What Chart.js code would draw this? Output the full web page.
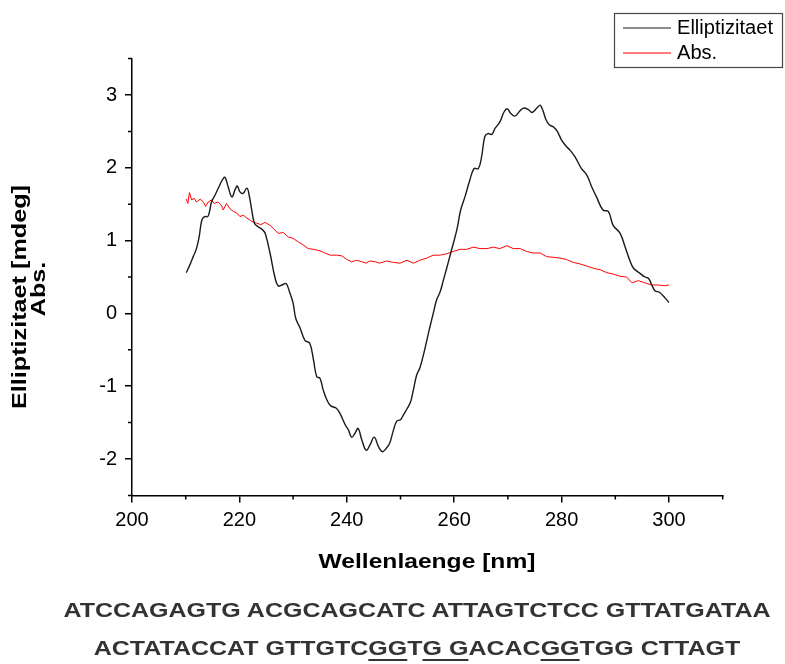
<!DOCTYPE html>
<html>
<head>
<meta charset="utf-8">
<script src="https://cdn.jsdelivr.net/npm/chart.js@4"></script>
<style>
  html, body { margin: 0; padding: 0; background: #fff; }
  #wrap { position: relative; width: 785px; height: 664px; }
  .seq {
    position: absolute; left: 417px; white-space: pre;
    font: bold 20.5px "Liberation Sans", Arial, sans-serif; color: #333;
    line-height: 20px;
    transform: translateX(-50%) scaleX(1.22);
  }
  .seq u { text-decoration-thickness: 2px; text-underline-offset: 4px; }
</style>
</head>
<body>
<div id="wrap">
  <canvas id="cdChart" width="785" height="664"></canvas>
  <div class="seq" style="top:600px">ATCCAGAGTG ACGCAGCATC ATTAGTCTCC GTTATGATAA</div>
  <div class="seq" style="top:638px">ACTATACCAT GTTGTC<u>GG</u>T<u>G G</u>ACAC<u>GG</u>TGG CTTAGT</div>
</div>
<script>
// wavelength [nm] / ellipticity [mdeg]
const cdWavelength = [210.1, 210.8, 211.4, 212.0, 212.5, 213.0, 213.5, 214.1, 214.5, 214.8,
    215.5, 216.2, 216.8, 217.3, 217.9, 218.6, 219.2, 219.6, 220.1, 220.7, 221.4, 221.8,
    222.3, 222.8, 223.5, 224.3, 224.8, 225.7, 226.6, 227.2, 227.9, 228.7, 229.4, 230.0,
    230.5, 231.3, 232.2, 233.1, 233.8, 234.4, 235.0, 235.6, 236.3, 237.0, 238.0, 238.7,
    239.7, 240.3, 240.9, 241.5, 242.1, 242.8, 243.6, 244.3, 245.1, 245.9, 246.6, 247.4,
    248.0, 248.7, 249.3, 250.0, 250.5, 251.3, 251.9, 252.4, 253.0, 253.6, 254.2, 254.9,
    255.5, 256.1, 256.7, 257.4, 258.0, 258.6, 259.5, 260.5, 261.2, 262.0, 262.9, 263.7,
    264.5, 265.1, 265.7, 266.3, 267.0, 267.6, 268.5, 269.3, 269.9, 270.5, 271.3, 272.1,
    272.9, 273.8, 274.5, 275.4, 276.0, 276.5, 277.1, 277.7, 278.5, 279.2, 280.0, 280.8,
    281.6, 282.5, 283.7, 284.7, 285.6, 286.5, 287.7, 288.7, 289.6, 290.9, 291.8, 292.7,
    293.4, 294.6, 295.5, 296.2, 296.8, 297.4, 298.2, 299.3, 300.0];
const ellipticity = [0.56, 0.67, 0.78, 0.89, 1.05, 1.28, 1.33, 1.33, 1.42, 1.53,
    1.63, 1.74, 1.83, 1.87, 1.74, 1.60, 1.70, 1.75, 1.67, 1.65, 1.72, 1.63,
    1.42, 1.24, 1.19, 1.15, 1.10, 0.83, 0.50, 0.38, 0.39, 0.41, 0.28, 0.14,
    -0.07, -0.20, -0.37, -0.41, -0.64, -0.87, -0.89, -1.05, -1.19, -1.27, -1.30, -1.37,
    -1.53, -1.60, -1.70, -1.65, -1.58, -1.74, -1.88, -1.81, -1.70, -1.83, -1.90, -1.85,
    -1.78, -1.60, -1.48, -1.46, -1.40, -1.30, -1.21, -1.05, -0.85, -0.75, -0.59, -0.37,
    -0.18, 0.00, 0.18, 0.30, 0.46, 0.62, 0.87, 1.15, 1.42, 1.60, 1.83, 1.99,
    1.99, 2.15, 2.43, 2.47, 2.46, 2.54, 2.63, 2.77, 2.81, 2.75, 2.71, 2.77,
    2.82, 2.80, 2.76, 2.82, 2.86, 2.79, 2.66, 2.59, 2.56, 2.50, 2.38, 2.30,
    2.24, 2.15, 1.99, 1.90, 1.74, 1.60, 1.42, 1.40, 1.21, 1.10, 0.92, 0.73,
    0.62, 0.55, 0.50, 0.48, 0.39, 0.31, 0.29, 0.21, 0.15];

// wavelength [nm] / absorbance
const absWavelength = [210.1, 210.4, 210.7, 211.1, 211.6, 212.0, 212.7, 213.3, 213.7, 214.2,
    214.8, 215.3, 216.0, 216.6, 217.0, 217.6, 218.2, 218.9, 219.5, 220.1, 220.7, 221.4,
    222.0, 222.6, 223.2, 224.0, 224.8, 225.7, 226.3, 227.2, 228.2, 229.1, 230.0, 231.0,
    231.9, 232.8, 233.8, 235.0, 235.9, 236.9, 238.1, 239.1, 240.0, 240.9, 241.8, 242.8,
    243.6, 244.3, 245.3, 246.1, 247.4, 248.7, 249.9, 251.2, 252.4, 253.6, 254.9, 256.1,
    257.4, 258.6, 259.8, 261.1, 262.3, 263.6, 264.8, 266.1, 267.3, 268.5, 269.8, 271.0,
    272.3, 273.5, 274.7, 276.0, 277.2, 278.5, 279.7, 280.9, 282.2, 283.4, 284.7, 285.9,
    287.2, 288.4, 289.6, 290.9, 292.1, 293.1, 294.3, 295.5, 296.8, 298.0, 299.2, 300.0];
const absorbance = [1.57, 1.51, 1.66, 1.56, 1.58, 1.53, 1.57, 1.53, 1.47, 1.53,
    1.56, 1.51, 1.53, 1.49, 1.42, 1.51, 1.44, 1.40, 1.38, 1.33, 1.35, 1.31,
    1.28, 1.25, 1.24, 1.22, 1.25, 1.21, 1.17, 1.10, 1.11, 1.05, 1.03, 0.98,
    0.94, 0.89, 0.88, 0.86, 0.83, 0.80, 0.80, 0.79, 0.74, 0.71, 0.73, 0.71,
    0.69, 0.72, 0.71, 0.69, 0.72, 0.70, 0.69, 0.73, 0.69, 0.73, 0.76, 0.80,
    0.80, 0.82, 0.85, 0.88, 0.88, 0.91, 0.89, 0.89, 0.91, 0.89, 0.93, 0.89,
    0.89, 0.85, 0.83, 0.83, 0.78, 0.77, 0.76, 0.74, 0.70, 0.68, 0.65, 0.62,
    0.60, 0.56, 0.54, 0.51, 0.50, 0.42, 0.45, 0.42, 0.39, 0.39, 0.38, 0.39];

const seriesNames = ['Elliptizitaet', 'Abs.'];
const seriesColors = ['#1a1a1a', '#ff0000'];
const xMajor = [200, 220, 240, 260, 280, 300];
const xMinor = [210, 230, 250, 270, 290, 310];
const yMajor = [-2, -1, 0, 1, 2, 3];
const yMinor = [-2.5, -1.5, -0.5, 0.5, 1.5, 2.5, 3.5];
const xTitle = 'Wellenlaenge [nm]';
const yTitle = ['Elliptizitaet [mdeg]', 'Abs.'];

const FONT = '"Liberation Sans", Arial, sans-serif';

function toPoints(xs, ys) {
    return xs.map((x, i) => ({ x: x, y: ys[i] }));
}

// stretched text like the original export
function wideText(ctx, txt, x, y, font, sx, align) {
    ctx.save();
    ctx.font = font;
    ctx.textBaseline = 'middle';
    ctx.textAlign = align || 'center';
    ctx.translate(x, y);
    ctx.scale(sx, 1);
    ctx.fillText(txt, 0, 0);
    ctx.restore();
}

const decorations = {
    id: 'decorations',
    afterDraw(chart) {
        const ctx = chart.ctx;
        const xs = chart.scales.x, ys = chart.scales.y;
        const area = chart.chartArea;
        ctx.save();
        ctx.strokeStyle = '#000';
        ctx.lineWidth = 1.5;
        // minor ticks
        ctx.beginPath();
        xMinor.forEach(v => {
            const px = xs.getPixelForValue(v);
            ctx.moveTo(px, area.bottom);
            ctx.lineTo(px, area.bottom + 4);
        });
        yMinor.forEach(v => {
            const py = ys.getPixelForValue(v);
            ctx.moveTo(area.left, py);
            ctx.lineTo(area.left - 4, py);
        });
        ctx.stroke();
        ctx.fillStyle = '#000';
        // axis titles
        wideText(ctx, xTitle, 427, 562, 'bold 20.5px ' + FONT, 1.2);
        ctx.save();
        ctx.translate(20.5, 297);
        ctx.rotate(-Math.PI / 2);
        wideText(ctx, yTitle[0], 0, 0, 'bold 21px ' + FONT, 1.2);
        ctx.restore();
        ctx.save();
        ctx.translate(39.5, 289);
        ctx.rotate(-Math.PI / 2);
        wideText(ctx, yTitle[1], 0, 0, 'bold 21px ' + FONT, 1.2);
        ctx.restore();
        // legend
        ctx.lineWidth = 1.2;
        ctx.strokeStyle = '#444';
        ctx.strokeRect(614.5, 13.5, 168, 54);
        seriesNames.forEach((name, i) => {
            const ly = 28 + i * 25;
            ctx.strokeStyle = seriesColors[i];
            ctx.lineWidth = 1.2;
            ctx.beginPath();
            ctx.moveTo(623, ly);
            ctx.lineTo(671, ly);
            ctx.stroke();
            ctx.fillStyle = '#000';
            wideText(ctx, name, 677, ly + 1, '19.5px ' + FONT, 1.03, 'left');
        });
        ctx.restore();
    }
};

const axisCommon = {
    type: 'linear',
    grid: { drawOnChartArea: false, drawTicks: true, tickLength: 7, color: '#000', lineWidth: 1.5 },
    border: { display: true, color: '#000', width: 1.5 },
    ticks: { color: '#000', font: { family: FONT, size: 20 } }
};

new Chart(document.getElementById('cdChart').getContext('2d'), {
    type: 'line',
    data: {
        datasets: [{
            label: seriesNames[0],
            data: toPoints(cdWavelength, ellipticity),
            borderColor: seriesColors[0],
            borderWidth: 1.4,
            pointRadius: 0,
            tension: 0.4,
            fill: false
        }, {
            label: seriesNames[1],
            data: toPoints(absWavelength, absorbance),
            borderColor: seriesColors[1],
            borderWidth: 1,
            pointRadius: 0,
            tension: 0,
            fill: false
        }]
    },
    options: {
        responsive: false,
        animation: false,
        layout: { padding: { left: 72, top: 58.6, right: 62.3, bottom: 98.6 } },
        plugins: { legend: { display: false }, tooltip: { enabled: false } },
        scales: {
            x: Object.assign({}, axisCommon, {
                min: 200, max: 310,
                ticks: Object.assign({}, axisCommon.ticks, { padding: 6, maxRotation: 0 }),
                afterBuildTicks: s => { s.ticks = xMajor.map(v => ({ value: v })); },
                afterFit: s => { s.height = 70; }
            }),
            y: Object.assign({}, axisCommon, {
                min: -2.5, max: 3.5,
                ticks: Object.assign({}, axisCommon.ticks, { padding: 8 }),
                afterBuildTicks: s => { s.ticks = yMajor.map(v => ({ value: v })); },
                afterFit: s => { s.width = 60; }
            })
        }
    },
    plugins: [decorations]
});
</script>
</body>
</html>
